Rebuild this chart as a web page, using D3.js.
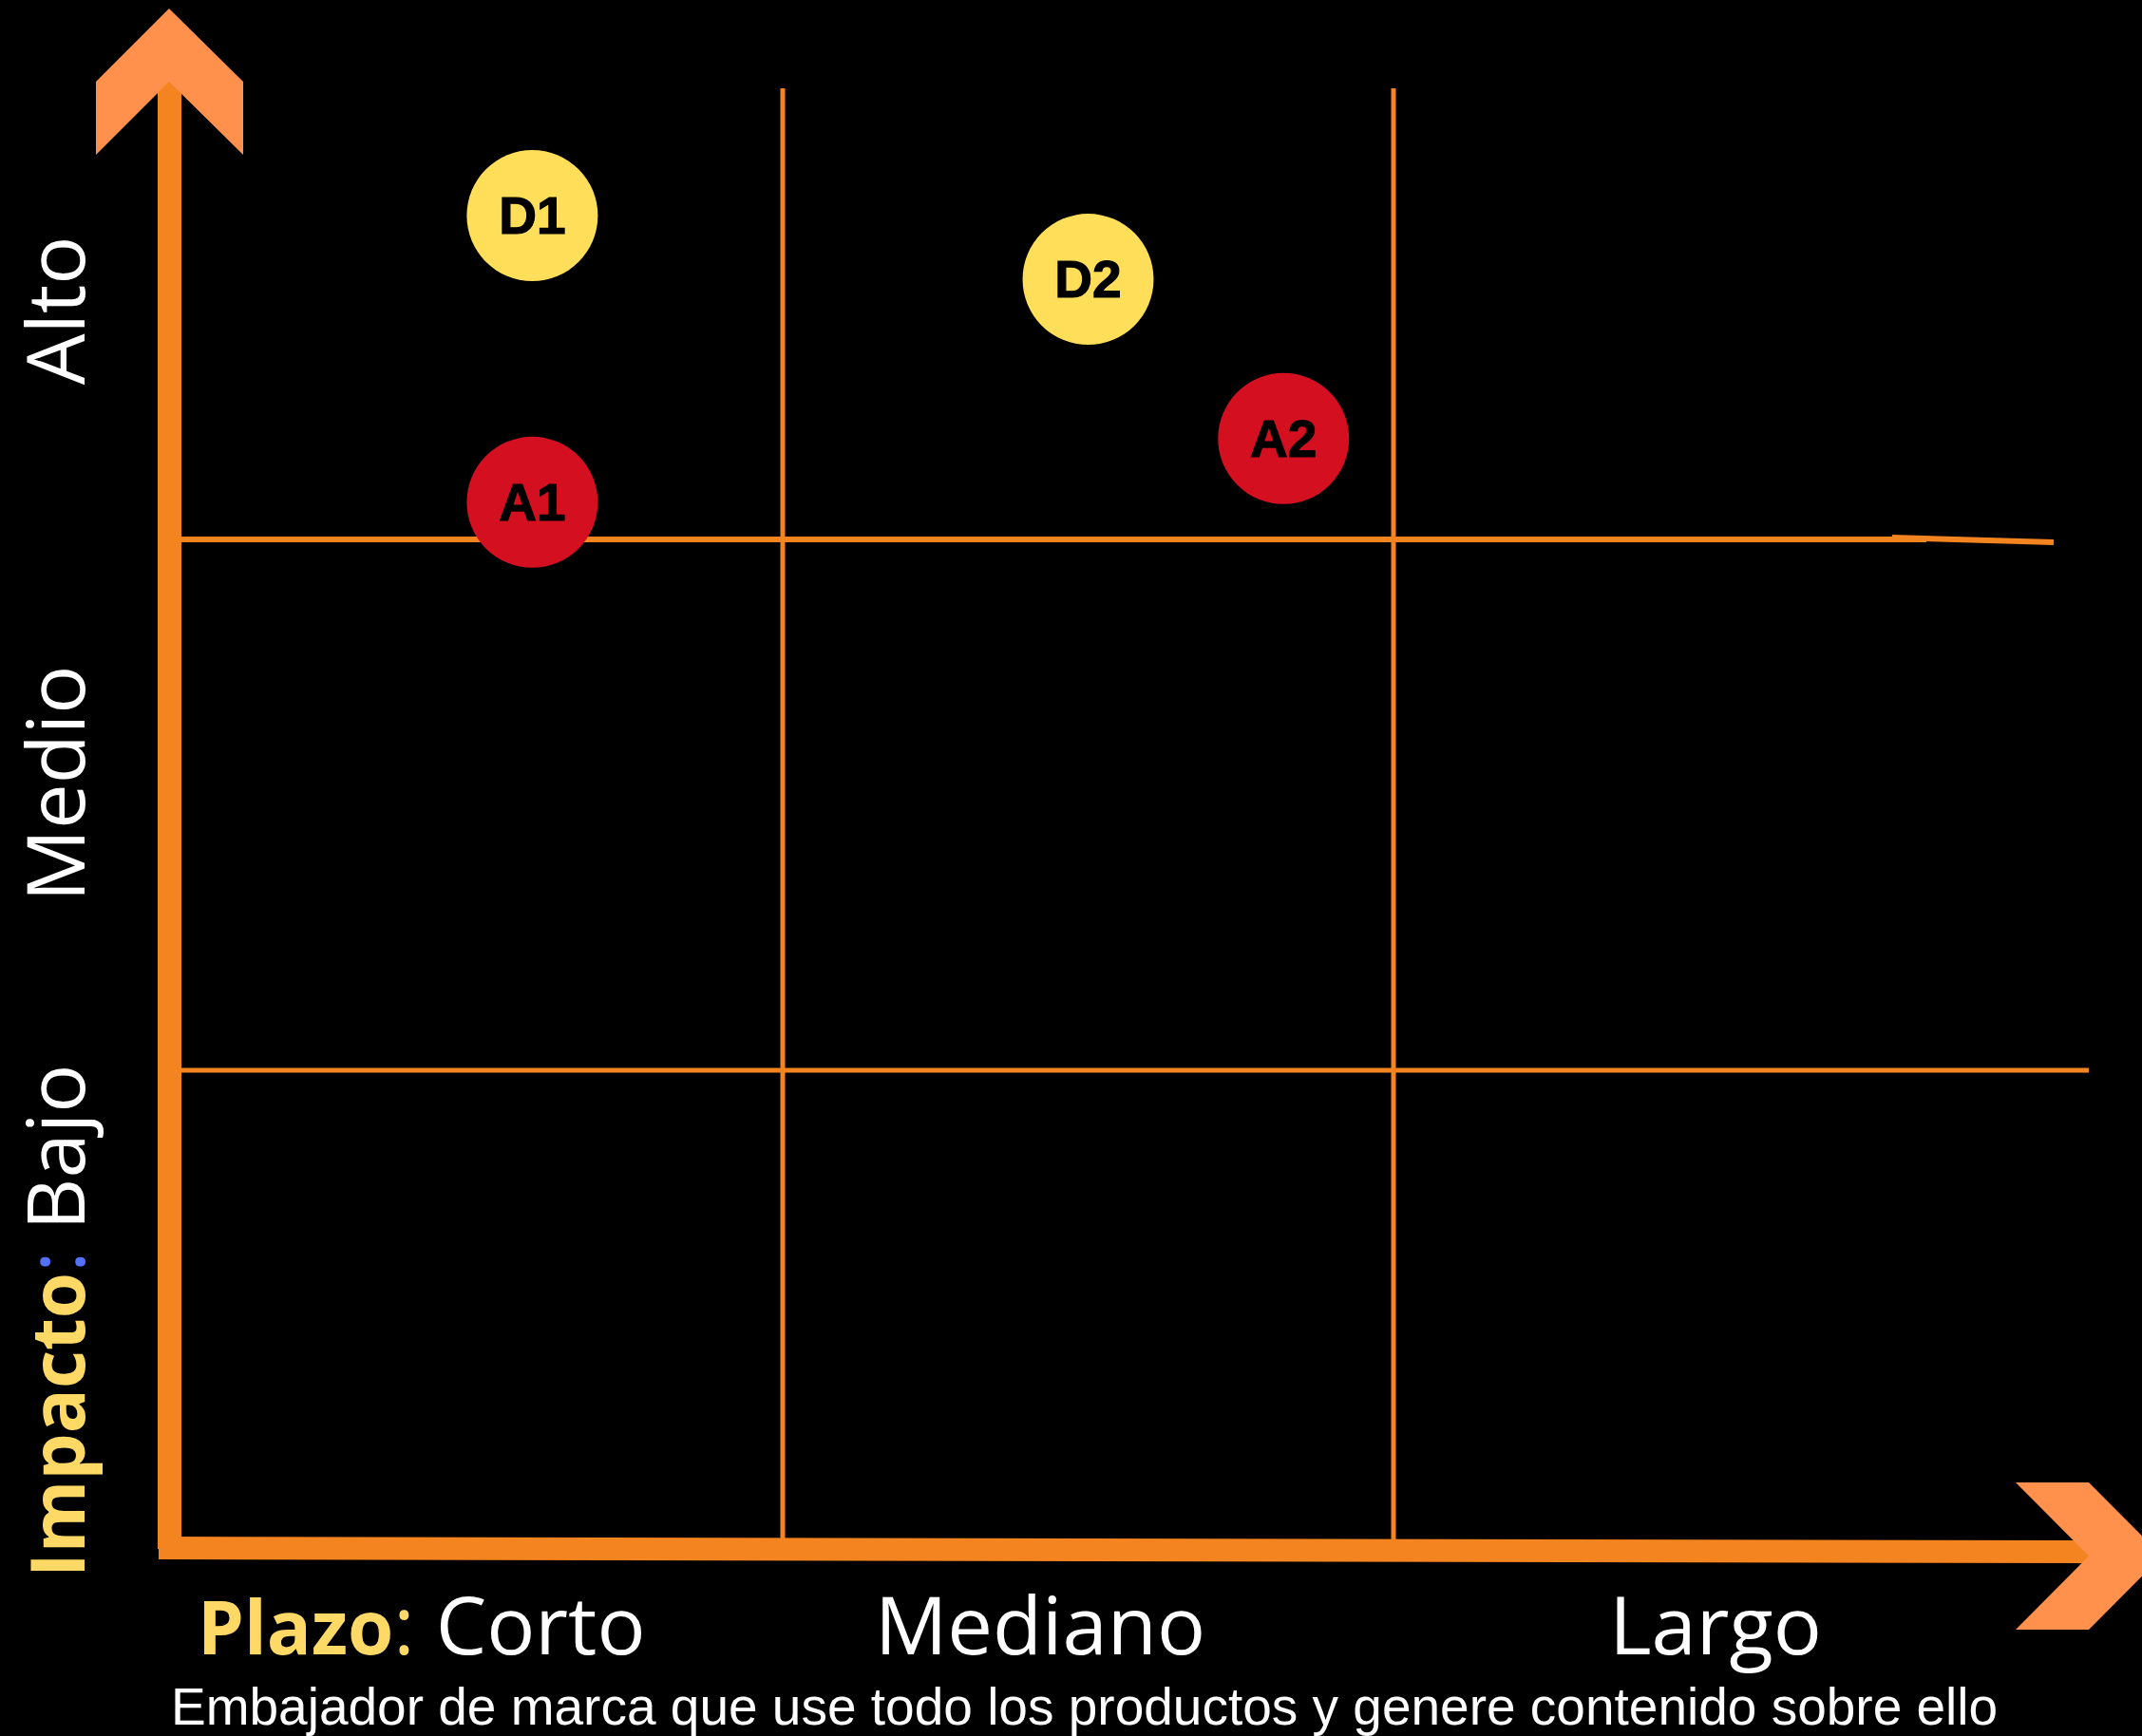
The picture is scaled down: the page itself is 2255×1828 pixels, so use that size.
<!DOCTYPE html>
<html>
<head>
<meta charset="utf-8">
<script src="https://cdn.jsdelivr.net/npm/d3@7"></script>
<style>
  html, body { margin: 0; padding: 0; background: #000; }
  svg { display: block; }
</style>
</head>
<body>
<div id="chart"></div>
<script>
// categorias de los ejes
var xCats = ['Corto', 'Mediano', 'Largo'];
var yCats = ['Bajo', 'Medio', 'Alto'];
var xTitle = 'Plazo';
var yTitle = 'Impacto';
var caption = 'Embajador de marca que use todo los productos y genere contenido sobre ello';

// iniciativas (x = plazo, y = impacto)
var pointNames = ['D1', 'D2', 'A1', 'A2'];
var pointX = [0.59, 1.50, 0.59, 1.82];
var pointY = [2.61, 2.49, 2.07, 2.19];
var pointType = ['D', 'D', 'A', 'A'];

var W = 2255, H = 1828;
var ORANGE = '#F4841F', LIGHT = '#FF914D', YELLOW = '#FFDE59', TXTYEL = '#FFD966', RED = '#D30F20';

var svg = d3.select('#chart').append('svg')
  .attr('width', W).attr('height', H);
svg.append('rect').attr('width', W).attr('height', H).attr('fill', '#000');

// escalas: 1 unidad = una columna / fila de la matriz
var x = d3.scaleLinear().domain([1, 2]).range([824, 1467]);
var y = d3.scaleLinear().domain([1, 2]).range([1127, 568]);
var color = d3.scaleOrdinal().domain(['D', 'A']).range([YELLOW, RED]);

var gLeft = 188, gRight = 2199, gTop = 93, gBottom = 1625;

// rejilla
var g = svg.append('g');
g.selectAll('line.v').data([1, 2]).enter().append('line')
  .attr('x1', function (d) { return x(d); })
  .attr('x2', function (d) { return x(d); })
  .attr('y1', gTop).attr('y2', gBottom)
  .attr('stroke', ORANGE).attr('stroke-width', 5);

g.append('line')
  .attr('x1', gLeft).attr('x2', 2028)
  .attr('y1', y(2)).attr('y2', y(2))
  .attr('stroke', ORANGE).attr('stroke-width', 6);
g.append('line')
  .attr('x1', 1992).attr('x2', 2162)
  .attr('y1', y(2) - 2).attr('y2', y(2) + 3)
  .attr('stroke', ORANGE).attr('stroke-width', 6);
g.append('line')
  .attr('x1', gLeft).attr('x2', gRight)
  .attr('y1', y(1)).attr('y2', y(1))
  .attr('stroke', ORANGE).attr('stroke-width', 5);

// ejes
svg.append('rect')
  .attr('x', 166).attr('y', 86).attr('width', 25).attr('height', 1545)
  .attr('fill', ORANGE);
svg.append('polygon')
  .attr('points', [[167, 1618], [2199, 1622], [2199, 1646], [167, 1642]].join(' '))
  .attr('fill', ORANGE);

// flechas
svg.append('polygon')
  .attr('points', [[178, 9], [256, 86], [256, 163], [178, 86], [101, 163], [101, 86]].join(' '))
  .attr('fill', LIGHT);
svg.append('polygon')
  .attr('points', [[2122, 1561], [2199, 1561], [2276, 1638.5], [2199, 1716], [2122, 1716], [2199, 1638.5]].join(' '))
  .attr('fill', LIGHT);

// puntos
var pts = pointNames.map(function (n, i) {
  return {name: n, x: pointX[i], y: pointY[i], t: pointType[i]};
});
var node = svg.selectAll('g.pt').data(pts).enter().append('g')
  .attr('class', 'pt')
  .attr('transform', function (d) { return 'translate(' + x(d.x) + ',' + y(d.y) + ')'; });
node.append('circle').attr('r', 69)
  .attr('fill', function (d) { return color(d.t); });
node.append('text')
  .attr('text-anchor', 'middle').attr('y', 19)
  .attr('font-family', 'Liberation Sans, Arial, sans-serif')
  .attr('font-weight', 'bold').attr('font-size', 55)
  .attr('stroke', '#000').attr('stroke-width', 1.2)
  .attr('fill', '#000')
  .text(function (d) { return d.name; });

// etiquetas eje x
var labFont = 'Open Sans, sans-serif';
var xl = svg.append('text')
  .attr('x', 208).attr('y', 1742)
  .attr('font-family', labFont).attr('font-size', 85).attr('fill', '#fff');
xl.append('tspan').attr('font-weight', 'bold').attr('font-size', 78).attr('fill', TXTYEL).text(xTitle);
xl.append('tspan').attr('fill', TXTYEL).text(':');
xl.append('tspan').text(' ' + xCats[0]);

var xPos = [null, 1095, 1806];
svg.selectAll('text.xcat').data(xCats.slice(1)).enter().append('text')
  .attr('class', 'xcat')
  .attr('x', function (d, i) { return xPos[i + 1]; })
  .attr('y', 1742)
  .attr('text-anchor', 'middle')
  .attr('font-family', labFont).attr('font-size', 85).attr('fill', '#fff')
  .text(function (d) { return d; });

// etiquetas eje y (giradas)
var yl = svg.append('text')
  .attr('transform', 'translate(89,1661) rotate(-90)')
  .attr('font-family', labFont).attr('font-size', 85).attr('fill', '#fff');
yl.append('tspan').attr('font-weight', 'bold').attr('font-size', 78).attr('fill', TXTYEL).text(yTitle);
yl.append('tspan').attr('fill', '#5271FF').text(':');
yl.append('tspan').text(' ' + yCats[0]);

var yPos = [null, 825, 327];
svg.selectAll('text.ycat').data(yCats.slice(1)).enter().append('text')
  .attr('class', 'ycat')
  .attr('transform', function (d, i) { return 'translate(89,' + yPos[i + 1] + ') rotate(-90)'; })
  .attr('text-anchor', 'middle')
  .attr('font-family', labFont).attr('font-size', 85).attr('fill', '#fff')
  .text(function (d) { return d; });

// pie
svg.append('text')
  .attr('x', 180).attr('y', 1816)
  .attr('font-family', 'Liberation Sans, Arial, sans-serif')
  .attr('font-size', 55).attr('fill', '#fff')
  .text(caption);
</script>
</body>
</html>
